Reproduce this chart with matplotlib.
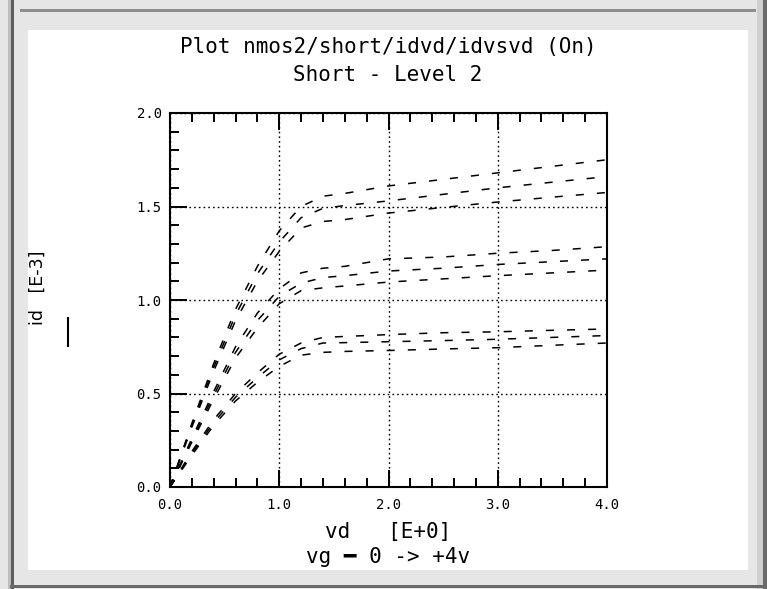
import matplotlib
matplotlib.use('Agg')
import matplotlib.pyplot as plt
from matplotlib.patches import Rectangle
from matplotlib.lines import Line2D
from matplotlib.ticker import MultipleLocator

# drain voltage sweep (V)
vd = [0.0, 0.2, 0.4, 0.6, 0.8, 1.0, 1.2, 1.4, 1.6, 2.0, 2.5, 3.0, 3.5, 4.0]

# drain current (E-3), three groups of three traces
id_top = [
    [0, 0.34, 0.66, 0.95, 1.18, 1.37, 1.50, 1.555, 1.57, 1.61, 1.645, 1.68, 1.715, 1.75],
    [0, 0.33, 0.64, 0.92, 1.14, 1.31, 1.44, 1.49, 1.505, 1.53, 1.565, 1.60, 1.63, 1.66],
    [0, 0.32, 0.62, 0.89, 1.10, 1.26, 1.385, 1.42, 1.43, 1.465, 1.495, 1.524, 1.55, 1.575],
]
id_mid = [
    [0, 0.26, 0.51, 0.75, 0.93, 1.06, 1.145, 1.17, 1.18, 1.22, 1.23, 1.25, 1.265, 1.285],
    [0, 0.25, 0.49, 0.72, 0.89, 1.02, 1.09, 1.12, 1.13, 1.155, 1.17, 1.19, 1.205, 1.22],
    [0, 0.24, 0.47, 0.69, 0.85, 0.98, 1.05, 1.065, 1.075, 1.096, 1.113, 1.13, 1.145, 1.16],
]
id_bot = [
    [0, 0.19, 0.36, 0.50, 0.61, 0.71, 0.77, 0.80, 0.805, 0.815, 0.825, 0.83, 0.838, 0.845],
    [0, 0.18, 0.345, 0.48, 0.585, 0.68, 0.74, 0.77, 0.772, 0.777, 0.783, 0.79, 0.80, 0.81],
    [0, 0.17, 0.33, 0.46, 0.56, 0.645, 0.705, 0.72, 0.725, 0.73, 0.738, 0.745, 0.758, 0.77],
]

x_ticks = [0.0, 1.0, 2.0, 3.0, 4.0]
y_ticks = [0.0, 0.5, 1.0, 1.5, 2.0]
title = 'Plot nmos2/short/idvd/idvsvd (On)'
subtitle = 'Short - Level 2'
xlabel = 'vd   [E+0]'
xlabel2 = 'vg \u2501 0 -> +4v'
ylabel = 'id   [E-3]'

W, H = 767, 589
plt.rcParams['lines.scale_dashes'] = False
mono = 'DejaVu Sans Mono'


def fx(px):
    return px / W


def fy(py):
    return 1 - py / H


def band(x0, y0, x1, y1, color):
    # frame decoration in pixel units, drawn under the axes
    fig.add_artist(Rectangle((fx(x0), fy(y1)), fx(x1) - fx(x0), fy(y0) - fy(y1),
                             transform=fig.transFigure, facecolor=color,
                             edgecolor='none', zorder=-10))


fig = plt.figure(figsize=(W / 100, H / 100), dpi=100, facecolor='#e6e6e6')

band(28, 30, 748, 570, 'white')
band(20, 9, 756, 12, '#8e8e8e')
band(8, 0, 11, 589, '#bdbdbd')
band(11, 0, 14, 589, '#5e5e5e')
band(757, 0, 763, 589, '#cfcfcf')
band(763, 0, 767, 589, '#6a6a6a')
band(10, 585, 767, 588, '#6a6a6a')

ax = fig.add_axes([fx(170), fy(487), fx(607) - fx(170), fy(113) - fy(487)])
ax.set_facecolor('white')

for group in (id_top, id_mid, id_bot):
    for trace in group:
        ax.plot(vd, trace, color='black', linewidth=1.1, linestyle=(0, (5.8, 9.4)))

ax.set_xlim(0, 4)
ax.set_ylim(0, 2)
ax.set_xticks(x_ticks)
ax.set_yticks(y_ticks)
ax.set_xticklabels(['%.1f' % v for v in x_ticks], family=mono, fontsize=10)
ax.set_yticklabels(['%.1f' % v for v in y_ticks], family=mono, fontsize=10)
ax.xaxis.set_minor_locator(MultipleLocator(0.2))
ax.yaxis.set_minor_locator(MultipleLocator(0.1))
ax.tick_params(which='major', direction='in', length=12.5, width=1.4,
               top=True, right=False, pad=6)
ax.tick_params(which='minor', direction='in', length=6.5, width=1.4,
               top=True, right=False)
ax.tick_params(axis='x', which='major', pad=8)
ax.grid(True, which='major', color='black', linewidth=1.0, linestyle=(0, (1.2, 2.2)))
for s in ax.spines.values():
    s.set_linewidth(1.5)

fig.text(fx(388), fy(47), title, ha='center', va='center', family=mono, fontsize=15)
fig.text(fx(388), fy(75), subtitle, ha='center', va='center', family=mono, fontsize=15)
fig.text(fx(388), fy(532), xlabel, ha='center', va='center', family=mono, fontsize=15)
fig.text(fx(388), fy(557), xlabel2, ha='center', va='center', family=mono, fontsize=15)
fig.text(fx(38), fy(288), ylabel, ha='center', va='center', rotation=90,
         family='DejaVu Sans', fontsize=12.5)
fig.add_artist(Line2D([fx(68), fx(68)], [fy(318), fy(346)], transform=fig.transFigure,
                      color='black', linewidth=1.5))

fig.savefig('out.png', dpi=100, facecolor=fig.get_facecolor())
